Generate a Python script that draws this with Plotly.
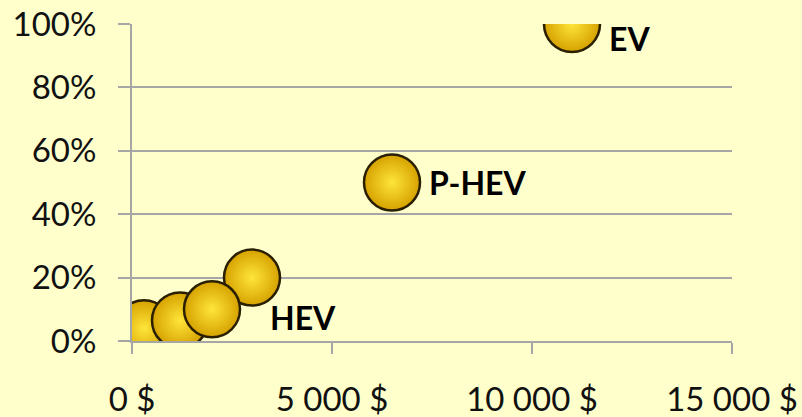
import plotly.graph_objects as go

# Data
cost_usd = [300, 1200, 2000, 3000, 6500, 11000]
share = [0.04, 0.065, 0.10, 0.20, 0.50, 1.00]
labels = ["", "", "", "HEV", "P-HEV", "EV"]
x_tickvals = [0, 5000, 10000, 15000]
x_ticktext = ["0 $", "5 000 $", "10 000 $", "15 000 $"]
y_tickvals = [0, 0.2, 0.4, 0.6, 0.8, 1.0]

# label offsets in px (style)
label_shift = {"HEV": (16, -40), "P-HEV": (35, 0), "EV": (35, -14)}

order = [3, 0, 1, 2, 4, 5]
fig = go.Figure()
fig.add_trace(go.Scatter(
    x=[cost_usd[i] for i in order],
    y=[share[i] for i in order],
    mode="markers",
    marker=dict(
        size=56,
        color="#D6A200",
        gradient=dict(type="radial", color="#FFE53A"),
        line=dict(color="#2A1F00", width=2.5),
    ),
    cliponaxis=True,
    hoverinfo="skip",
))

for xv, yv, lab in zip(cost_usd, share, labels):
    if lab:
        dx, dy = label_shift[lab]
        fig.add_annotation(
            x=xv, y=yv, xref="x", yref="y", text="<b>%s</b>" % lab,
            showarrow=False, xanchor="left", yanchor="middle",
            xshift=dx, yshift=dy,
            font=dict(family="Lato, Open Sans, sans-serif", size=32, color="#000000"),
        )

grid = "#A6A6A6"
fig.update_layout(
    width=802, height=417,
    margin=dict(l=132, r=70, t=24, b=76, autoexpand=False),
    paper_bgcolor="#FFFFCC",
    plot_bgcolor="#FFFFCC",
    showlegend=False,
    font=dict(family="Lato, Open Sans, sans-serif", size=33, color="#111111"),
)
fig.update_xaxes(
    range=[0, 15000], tickvals=x_tickvals, ticktext=x_ticktext,
    showgrid=False, zeroline=False, automargin=False,
    showline=True, linecolor=grid, linewidth=2,
    ticks="outside", ticklen=11, tickwidth=2, tickcolor=grid,
    ticklabelstandoff=17,
)
fig.update_yaxes(
    range=[0, 1], tickvals=y_tickvals, tickformat=".0%",
    showgrid=True, gridcolor=grid, gridwidth=2, zeroline=False, automargin=False,
    showline=True, linecolor=grid, linewidth=2,
    ticks="outside", ticklen=12, tickwidth=2, tickcolor=grid,
    ticklabelstandoff=15,
)

fig.write_html(
    "out.html",
    config={"displayModeBar": False},
    post_script="document.body.style.margin='0';document.body.style.background='#FFFFCC';",
)
